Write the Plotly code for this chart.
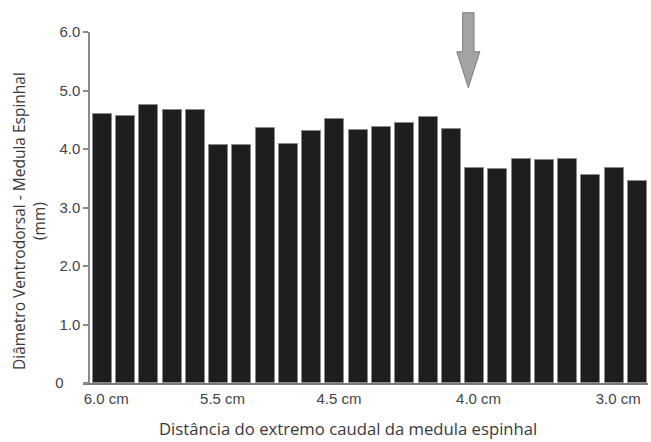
import plotly.graph_objects as go

# Data
bar_values = [4.60, 4.56, 4.75, 4.67, 4.67, 4.06, 4.06, 4.36, 4.09, 4.31,
              4.51, 4.33, 4.38, 4.44, 4.55, 4.34, 3.67, 3.65, 3.83, 3.81,
              3.83, 3.56, 3.68, 3.46]
bar_positions = list(range(len(bar_values)))
x_tick_positions = [0, 5, 10, 16, 22]
x_tick_labels = ["6.0 cm", "5.5 cm", "4.5 cm", "4.0 cm", "3.0 cm"]
y_tick_values = [0, 1, 2, 3, 4, 5, 6]
y_tick_labels = ["0\u00a0\u00a0\u00a0\u00a0", "1.0", "2.0", "3.0", "4.0", "5.0", "6.0"]
arrow_position = 15.73

W, H = 651, 442
L, R, T, B = 83, 3, 32, 59
plot_w = W - L - R
plot_h = H - T - B

fig = go.Figure()
fig.add_trace(go.Bar(
    x=bar_positions, y=bar_values, width=0.816,
    marker=dict(color="#1e1e1e", line=dict(color="#8a8a8a", width=1)),
    showlegend=False, hoverinfo="x+y",
))

fig.update_layout(
    width=W, height=H,
    margin=dict(l=L, r=R, t=T, b=B, pad=0),
    plot_bgcolor="white", paper_bgcolor="white",
    bargap=0,
    xaxis=dict(
        range=[-0.825, 23.45], showgrid=False, zeroline=False,
        showline=True, linecolor="#7a7a7a", linewidth=2,
        tickmode="array", tickvals=x_tick_positions, ticktext=x_tick_labels,
        ticks="", ticklabelshift=4, ticklabelstandoff=1,
        tickfont=dict(family="Liberation Sans, Arial", size=15, color="#444"),
        fixedrange=True,
    ),
    yaxis=dict(
        range=[0, 6], showgrid=False, zeroline=False,
        anchor="free", position=6.3 / plot_w,
        showline=True, linecolor="#8a8a8a", linewidth=2,
        tickmode="array", tickvals=y_tick_values, ticktext=y_tick_labels,
        ticks="outside", ticklen=5, tickwidth=1.5, tickcolor="#8a8a8a",
        tickfont=dict(family="Liberation Sans, Arial", size=15, color="#444"),
        fixedrange=True,
    ),
    annotations=[
        dict(text="Diâmetro Ventrodorsal - Medula Espinhal<br>(mm)",
             xref="paper", yref="paper", x=-(L - 29) / plot_w, y=(H - B - 221) / plot_h,
             xanchor="center", yanchor="middle", textangle=-90, showarrow=False,
             font=dict(family="Open Sans", size=15.5, color="#3a3a3a")),
        dict(text="Distância do extremo caudal da medula espinhal",
             xref="paper", yref="paper", x=(348 - L) / plot_w, y=-(428 - (H - B)) / plot_h,
             xanchor="center", yanchor="middle", showarrow=False,
             font=dict(family="Open Sans", size=16.7, color="#3a3a3a")),
    ],
    shapes=[
        dict(type="path", xref="x", yref="paper", xsizemode="pixel", ysizemode="pixel",
             xanchor=arrow_position, yanchor=1,
             path="M -5.7,19.3 L 5.7,19.3 L 5.7,-19.7 L 11.5,-19.7 L 0,-55.7 L -11.5,-19.7 L -5.7,-19.7 Z",
             fillcolor="#a3a3a3", line=dict(color="#7f7f7f", width=1)),
    ],
)

fig.write_html("out.html")
